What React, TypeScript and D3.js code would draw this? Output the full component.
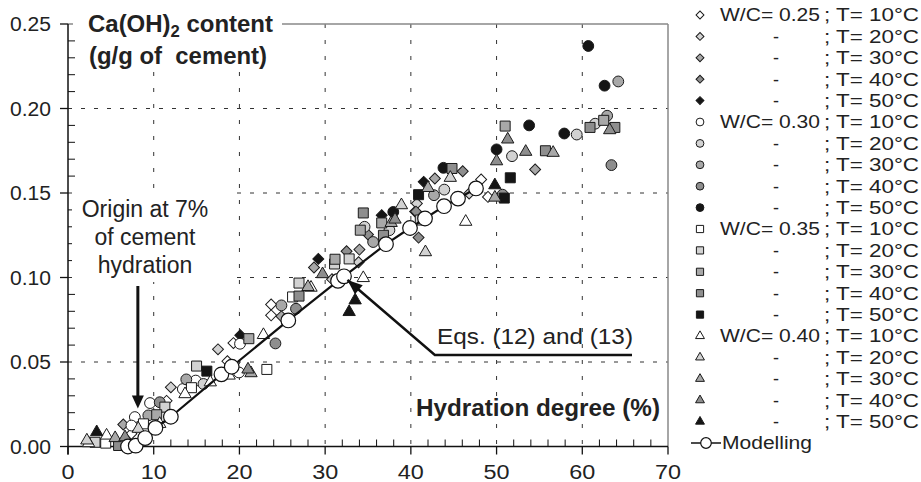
import React from "react";
import * as d3 from "d3";

type Pt = [number, number];

const xTicks = [0, 10, 20, 30, 40, 50, 60, 70];
const yTicks = [0, 0.05, 0.1, 0.15, 0.2, 0.25];
const yTickLabels = ["0.00", "0.05", "0.10", "0.15", "0.20", "0.25"];
const wcLabels = ["W/C= 0.25", "W/C= 0.30", "W/C= 0.35", "W/C= 0.40"];
const tempLabels = ["; T= 10°C", "; T= 20°C", "; T= 30°C", "; T= 40°C", "; T= 50°C"];
const tempFills = ["#ffffff", "#d2d2d2", "#a8a8a8", "#8e8e8e", "#151515"];
const shapes = ["diamond", "circle", "square", "triangle"];

// W/C = 0.25 (diamonds)
const d25_10: Pt[] = [[7.4, 0.0075], [11.5, 0.027], [18.6, 0.0505], [19.3, 0.0612], [23.7, 0.084], [23.7, 0.0776], [40.5, 0.139], [48.2, 0.158], [49.0, 0.1477]];
const d25_20: Pt[] = [[12.0, 0.035], [17.5, 0.0575], [30.8, 0.099], [33.9, 0.109], [40.7, 0.1438], [46.8, 0.1497]];
const d25_30: Pt[] = [[6.45, 0.013], [24.9, 0.077], [28.7, 0.1059], [34.0, 0.1165], [42.8, 0.1586], [54.5, 0.1639]];
const d25_40: Pt[] = [[32.5, 0.1155], [35.0, 0.1254], [40.9, 0.1236], [46.05, 0.1629], [40.6, 0.139]];
const d25_50: Pt[] = [[20.1, 0.0658], [29.2, 0.111], [36.6, 0.1368], [41.5, 0.1566]];

// W/C = 0.30 (circles)
const d30_10: Pt[] = [[7.8, 0.0174], [7.4, 0.0124], [9.57, 0.0257], [11.1, 0.0174], [13.4, 0.034], [14.9, 0.039], [20.07, 0.0608], [19.95, 0.0438]];
const d30_20: Pt[] = [[15.8, 0.037], [34.6, 0.13], [37.5, 0.128], [43.9, 0.152], [51.8, 0.1718], [59.35, 0.1846], [61.5, 0.191]];
const d30_30: Pt[] = [[9.37, 0.0184], [13.8, 0.0397], [24.9, 0.0835], [35.6, 0.121], [42.7, 0.1487], [62.9, 0.1957], [64.2, 0.216]];
const d30_40: Pt[] = [[10.7, 0.0262], [24.2, 0.061], [26.6, 0.0815], [50.7, 0.149], [63.4, 0.1665]];
const d30_50: Pt[] = [[37.95, 0.1388], [43.8, 0.1649], [50.0, 0.1758], [53.8, 0.19], [57.9, 0.1852], [60.7, 0.237], [62.6, 0.2135]];

// W/C = 0.35 (squares)
const d35_10: Pt[] = [[4.4, 0.002], [8.8, 0.0134], [14.4, 0.0348], [23.2, 0.0456], [26.2, 0.0885]];
const d35_20: Pt[] = [[3.15, 0.0025], [11.3, 0.0233], [15.0, 0.0476], [26.95, 0.0967], [31.1, 0.108], [32.8, 0.111], [41.1, 0.134]];
const d35_30: Pt[] = [[10.35, 0.0188], [21.1, 0.0638], [31.15, 0.1108], [34.1, 0.128], [36.6, 0.1323], [51.0, 0.1896], [62.5, 0.193]];
const d35_40: Pt[] = [[5.9, 0.0006], [26.95, 0.089], [34.45, 0.1382], [36.8, 0.125], [44.8, 0.1645], [55.7, 0.175], [60.9, 0.1888], [63.8, 0.1888]];
const d35_50: Pt[] = [[16.2, 0.0446], [40.9, 0.149], [50.9, 0.147], [51.6, 0.159]];

// W/C = 0.40 (triangles)
const d40_10: Pt[] = [[2.4, 0.002], [4.5, 0.0065], [10.7, 0.0134], [13.65, 0.031], [16.6, 0.038], [18.8, 0.042], [22.8, 0.066], [28.35, 0.094], [34.45, 0.0997], [46.4, 0.133]];
const d40_20: Pt[] = [[2.2, 0.0036], [8.2, 0.0105], [38.9, 0.1428], [41.7, 0.115], [44.6, 0.159]];
const d40_30: Pt[] = [[5.5, 0.005], [21.35, 0.0434], [28.0, 0.0944], [37.7, 0.1323], [42.0, 0.153], [49.8, 0.1473], [56.6, 0.1738]];
const d40_40: Pt[] = [[6.65, 0.0055], [21.0, 0.0456], [29.7, 0.102], [38.15, 0.1343], [50.0, 0.1688], [51.3, 0.1817], [53.4, 0.1744], [63.2, 0.1872]];
const d40_50: Pt[] = [[3.35, 0.0085], [32.8, 0.0796], [33.5, 0.0865], [49.8, 0.1546]];

// model curve
const modelling: Pt[] = [[7, 0], [7.9, 0.0005], [9, 0.005], [10.2, 0.011], [12, 0.0176], [17.9, 0.0427], [19.1, 0.0472], [25.7, 0.0746], [31.5, 0.098], [32.2, 0.1007], [37.1, 0.1197], [39.9, 0.1293], [41.65, 0.1349], [43.87, 0.1422], [45.5, 0.1467], [47.6, 0.1527]];

const groups: Pt[][][] = [
  [d25_10, d25_20, d25_30, d25_40, d25_50],
  [d30_10, d30_20, d30_30, d30_40, d30_50],
  [d35_10, d35_20, d35_30, d35_40, d35_50],
  [d40_10, d40_20, d40_30, d40_40, d40_50],
];

const FONT = "'Liberation Sans', Arial, Helvetica, sans-serif";

const x = d3.scaleLinear().domain([0, 70]).range([68, 668]);
const y = d3.scaleLinear().domain([0, 0.25]).range([446.5, 24]);

function Marker({ shape, cx, cy, fill, s = 1 }: { shape: string; cx: number; cy: number; fill: string; s?: number }) {
  let d: string | null;
  let rot = 0;
  if (shape === "circle") d = d3.symbol(d3.symbolCircle, 92 * s * s)();
  else if (shape === "square") d = d3.symbol(d3.symbolSquare, 100 * s * s)();
  else if (shape === "triangle") d = d3.symbol(d3.symbolTriangle, 66 * s * s)();
  else { d = d3.symbol(d3.symbolSquare, 60 * s * s)(); rot = 45; }
  return (
    <path d={d || ""} transform={`translate(${cx},${cy}) rotate(${rot})`} fill={fill} stroke="#1a1a1a" strokeWidth={1} />
  );
}

export default function App() {
  const minorY = d3.range(1, 25).filter((i) => i % 5 !== 0).map((i) => i * 0.01);
  const minorX = d3.range(1, 35).map((i) => i * 2).filter((v) => v % 10 !== 0);
  const modelLine = d3.line<Pt>().x((d) => x(d[0])).y((d) => y(d[1]))(modelling) || "";

  const legendRow = (i: number) => 15 + i * 21.4;

  // annotation geometry (data space)
  const eqTip: Pt = [32.6, 0.0985];
  const eqElbow: Pt = [42.8, 0.0542];
  const eqEnd: Pt = [65.8, 0.0542];
  const ang = Math.atan2(y(eqElbow[1]) - y(eqTip[1]), x(eqElbow[0]) - x(eqTip[0]));
  const ah = 15, aw = 6;
  const tx = x(eqTip[0]), ty = y(eqTip[1]);
  const head = [
    [tx, ty],
    [tx + ah * Math.cos(ang) - aw * Math.sin(ang), ty + ah * Math.sin(ang) + aw * Math.cos(ang)],
    [tx + ah * Math.cos(ang) + aw * Math.sin(ang), ty + ah * Math.sin(ang) - aw * Math.cos(ang)],
  ].map((p) => p.join(",")).join(" ");

  const ox = x(8.15);
  const oTip = y(0.0225);

  return (
    <svg width={921} height={482} style={{ position: "absolute", left: 0, top: 0, background: "#fff" }} fontFamily={FONT}>
      {/* grid */}
      {yTicks.slice(1, 5).map((t) => (
        <line key={"gy" + t} x1={x(0)} x2={x(70)} y1={y(t)} y2={y(t)} stroke="#333" strokeWidth={1} strokeDasharray="4,9" />
      ))}
      {xTicks.slice(1, 7).map((t) => (
        <line key={"gx" + t} x1={x(t)} x2={x(t)} y1={y(0.25)} y2={y(0)} stroke="#333" strokeWidth={1} strokeDasharray="4,12" />
      ))}
      {/* frame */}
      <line x1={x(0)} x2={x(70)} y1={y(0.25)} y2={y(0.25)} stroke="#888" strokeWidth={1.5} />
      <line x1={x(70)} x2={x(70)} y1={y(0.25)} y2={y(0)} stroke="#888" strokeWidth={1.5} />

      {/* title */}
      <rect x={73} y={6} width={209} height={66} fill="#fff" />
      <text x={88} y={32} fontSize={23} fontWeight="bold" fill="#222" textLength={185} lengthAdjust="spacingAndGlyphs">
        Ca(OH)<tspan dy={5} fontSize={16}>2</tspan><tspan dy={-5}> content</tspan>
      </text>
      <text x={89} y={64} fontSize={23} fontWeight="bold" fill="#222" textLength={178} lengthAdjust="spacingAndGlyphs" xmlSpace="preserve">
        (g/g of  cement)
      </text>

      {/* axis label */}
      <rect x={413} y={396} width={250} height={27} fill="#fff" />
      <text x={416} y={416} fontSize={23} fontWeight="bold" fill="#222" textLength={244} lengthAdjust="spacingAndGlyphs">
        Hydration degree (%)
      </text>

      {/* axes */}
      <line x1={x(0)} x2={x(0)} y1={y(0.25)} y2={y(0) + 8} stroke="#111" strokeWidth={1.5} />
      <line x1={x(0)} x2={x(70)} y1={y(0)} y2={y(0)} stroke="#111" strokeWidth={1.5} />
      {yTicks.map((t, i) => (
        <g key={"yt" + t}>
          <line x1={x(0) - 8} x2={x(0)} y1={y(t)} y2={y(t)} stroke="#111" strokeWidth={1.3} />
          <text x={51} y={y(t)} dy="0.36em" textAnchor="end" fontSize={20} fill="#222" textLength={41} lengthAdjust="spacingAndGlyphs">
            {yTickLabels[i]}
          </text>
        </g>
      ))}
      {minorY.map((t) => (
        <line key={"my" + t} x1={x(0)} x2={x(0) + 7} y1={y(t)} y2={y(t)} stroke="#111" strokeWidth={1} />
      ))}
      {xTicks.map((t) => (
        <g key={"xt" + t}>
          <line x1={x(t)} x2={x(t)} y1={y(0)} y2={y(0) + 8} stroke="#111" strokeWidth={1.3} />
          <text x={x(t)} y={479} textAnchor="middle" fontSize={20} fill="#222" textLength={t === 0 ? 13 : 26} lengthAdjust="spacingAndGlyphs">
            {t}
          </text>
        </g>
      ))}
      {minorX.map((t) => (
        <line key={"mx" + t} x1={x(t)} x2={x(t)} y1={y(0)} y2={y(0) - 7} stroke="#111" strokeWidth={1} />
      ))}

      {/* origin annotation */}
      <rect x={72} y={188} width={158} height={94} fill="#fff" />
      <text textAnchor="middle" fontSize={23} fill="#222">
        <tspan x={145} y={217}>Origin at 7%</tspan>
        <tspan x={145} y={245}>of cement</tspan>
        <tspan x={145} y={273}>hydration</tspan>
      </text>
      <line x1={ox} x2={ox} y1={286} y2={oTip - 10} stroke="#111" strokeWidth={3} />
      <polygon points={`${ox - 6},${oTip - 13} ${ox + 6},${oTip - 13} ${ox},${oTip}`} fill="#111" />

      {/* data */}
      {groups.map((g, gi) =>
        g.map((pts, ti) =>
          pts.map((p, k) => (
            <Marker key={`m${gi}-${ti}-${k}`} shape={shapes[gi]} cx={x(p[0])} cy={y(p[1])} fill={tempFills[ti]} />
          ))
        )
      )}

      {/* modelling */}
      <path d={modelLine} fill="none" stroke="#111" strokeWidth={2.2} />
      {modelling.map((p, k) => (
        <circle key={"mc" + k} cx={x(p[0])} cy={y(p[1])} r={7.3} fill="#fff" stroke="#111" strokeWidth={1.2} />
      ))}

      {/* Eqs annotation */}
      <polyline
        points={[eqTip, eqElbow, eqEnd].map((p) => `${x(p[0])},${y(p[1])}`).join(" ")}
        fill="none" stroke="#111" strokeWidth={2.5}
      />
      <polygon points={head} fill="#111" />
      <text x={437} y={344} fontSize={22} fill="#222" textLength={196} lengthAdjust="spacingAndGlyphs">
        Eqs. (12) and (13)
      </text>

      {/* legend */}
      {groups.map((g, gi) =>
        g.map((_, ti) => {
          const i = gi * 5 + ti;
          const cy = legendRow(i);
          return (
            <g key={"lg" + i}>
              <Marker shape={shapes[gi]} cx={700} cy={cy} fill={tempFills[ti]} s={0.72} />
              {ti === 0 ? (
                <text x={720} y={cy} dy="0.36em" fontSize={18} fill="#222" textLength={100} lengthAdjust="spacingAndGlyphs">
                  {wcLabels[gi]}
                </text>
              ) : (
                <text x={776} y={cy} dy="0.36em" fontSize={18} fill="#222" textAnchor="middle">-</text>
              )}
              <text x={824} y={cy} dy="0.36em" fontSize={18} fill="#222" textLength={95} lengthAdjust="spacingAndGlyphs">
                {tempLabels[ti]}
              </text>
            </g>
          );
        })
      )}
      <line x1={691} x2={721} y1={legendRow(20)} y2={legendRow(20)} stroke="#111" strokeWidth={1.5} />
      <circle cx={706} cy={legendRow(20)} r={5.3} fill="#fff" stroke="#111" strokeWidth={1.2} />
      <text x={722} y={legendRow(20)} dy="0.36em" fontSize={18} fill="#222" textLength={90} lengthAdjust="spacingAndGlyphs">
        Modelling
      </text>
    </svg>
  );
}
